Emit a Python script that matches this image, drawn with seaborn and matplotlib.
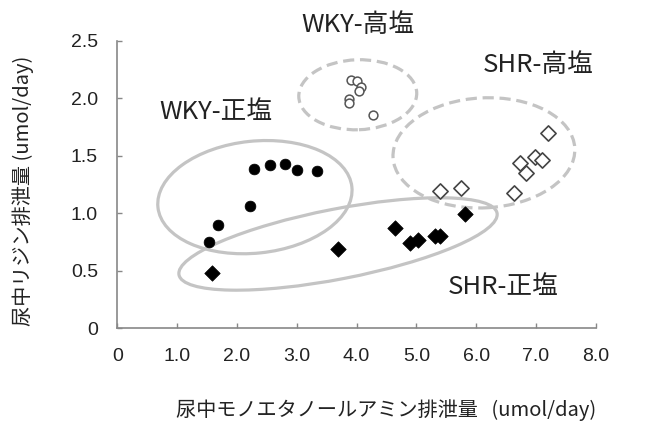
import matplotlib
matplotlib.use("Agg")
import matplotlib.pyplot as plt
import matplotlib.transforms as mtransforms
from matplotlib.patches import Ellipse
import pandas as pd
import seaborn as sns

# Urinary monoethanolamine (x) vs lysine (y) excretion, umol/day
wky_normal_x = [1.54, 1.68, 2.21, 2.28, 2.55, 2.81, 3.01, 3.34]
wky_normal_y = [0.75, 0.90, 1.06, 1.385, 1.42, 1.43, 1.376, 1.365]

shr_normal_x = [1.58, 3.69, 4.64, 4.90, 5.02, 5.31, 5.40, 5.81]
shr_normal_y = [0.48, 0.69, 0.87, 0.745, 0.77, 0.805, 0.80, 0.99]

wky_high_x = [3.91, 4.01, 4.07, 4.04, 3.88, 3.87, 4.27]
wky_high_y = [2.16, 2.15, 2.10, 2.06, 1.99, 1.96, 1.85]

shr_high_x = [5.39, 5.74, 6.63, 6.74, 6.84, 6.99, 7.10, 7.21]
shr_high_y = [1.19, 1.22, 1.18, 1.44, 1.35, 1.49, 1.46, 1.70]

group_names = ["WKY-正塩", "SHR-正塩", "WKY-高塩", "SHR-高塩"]

x_ticks = [0, 1, 2, 3, 4, 5, 6, 7, 8]
x_tick_labels = ["0", "1.0", "2.0", "3.0", "4.0", "5.0", "6.0", "7.0", "8.0"]
y_ticks = [0, 0.5, 1.0, 1.5, 2.0, 2.5]
y_tick_labels = ["0", "0.5", "1.0", "1.5", "2.0", "2.5"]

sns.set_style("ticks")
plt.rcParams["font.family"] = ["Liberation Sans", "Noto Sans CJK JP", "DejaVu Sans"]
cjk = ["Noto Sans CJK JP", "DejaVu Sans"]

fig = plt.figure(figsize=(6.5, 4.23), dpi=100)
ax = fig.add_axes([0.1806, 0.2239, 0.7359, 0.6799])

frames = {
    "wky_n": pd.DataFrame({"x": wky_normal_x, "y": wky_normal_y}),
    "shr_n": pd.DataFrame({"x": shr_normal_x, "y": shr_normal_y}),
    "wky_h": pd.DataFrame({"x": wky_high_x, "y": wky_high_y}),
    "shr_h": pd.DataFrame({"x": shr_high_x, "y": shr_high_y}),
}

sns.scatterplot(data=frames["wky_n"], x="x", y="y", ax=ax, marker="o", s=60,
                color="black", edgecolor="black", linewidth=0.5, zorder=4)
sns.scatterplot(data=frames["shr_n"], x="x", y="y", ax=ax, marker="D", s=62,
                color="black", edgecolor="black", linewidth=0.5, zorder=4)
sns.scatterplot(data=frames["wky_h"], x="x", y="y", ax=ax, marker="o", s=40,
                facecolor="white", edgecolor="#555555", linewidth=1.1, zorder=4)
sns.scatterplot(data=frames["shr_h"], x="x", y="y", ax=ax, marker="D", s=60,
                facecolor="white", edgecolor="#444444", linewidth=1.2, zorder=4)

# Group outlines: centre in data units, size in inches, tilt in degrees
outlines = [
    ((2.30, 1.14), 1.95, 1.12, 6, "-"),
    ((3.69, 0.733), 3.24, 0.70, 11, "-"),
    ((4.02, 2.03), 1.18, 0.70, 2, "--"),
    ((6.13, 1.525), 1.82, 1.10, 3, "--"),
]
for (cx, cy), w, h, ang, ls in outlines:
    trans = fig.dpi_scale_trans + mtransforms.ScaledTranslation(cx, cy, ax.transData)
    e = Ellipse((0, 0), w, h, angle=ang, transform=trans, fill=False,
                edgecolor="#c4c4c4", linewidth=2.3, linestyle=ls, zorder=2)
    if ls == "--":
        e.set_linestyle((0, (3.5, 1.8)))
    ax.add_patch(e)

label_pos = [(1.65, 1.88), (6.45, 0.36), (4.02, 2.64), (7.03, 2.29)]
for name, (lx, ly) in zip(group_names, label_pos):
    ax.text(lx, ly, name, ha="center", va="center", fontsize=18.5,
            family=cjk, color="#222222", clip_on=False)

ax.set_xlim(0, 8)
ax.set_ylim(0, 2.5)
ax.set_xticks(x_ticks)
ax.set_xticklabels(x_tick_labels)
ax.set_yticks(y_ticks)
ax.set_yticklabels(y_tick_labels)
ax.tick_params(direction="in", length=3.5, width=1, color="#888888",
               labelsize=14, labelcolor="#222222", pad=14)

for side in ["top", "right"]:
    ax.spines[side].set_visible(False)
for side in ["left", "bottom"]:
    ax.spines[side].set_color("#888888")
    ax.spines[side].set_linewidth(1.2)

ax.set_xlabel("尿中モノエタノールアミン排泄量   (umol/day)", fontsize=14.5,
              family=cjk, color="#222222")
ax.set_ylabel("尿中リジン排泄量 (umol/day)", fontsize=14.5, family=cjk,
              color="#222222")
ax.xaxis.label.set_va("center")
ax.yaxis.label.set_va("center")
ax.xaxis.set_label_coords(0.5616, -0.284)
ax.yaxis.set_label_coords(-0.197, 0.477)

fig.savefig("out.png", dpi=100)
